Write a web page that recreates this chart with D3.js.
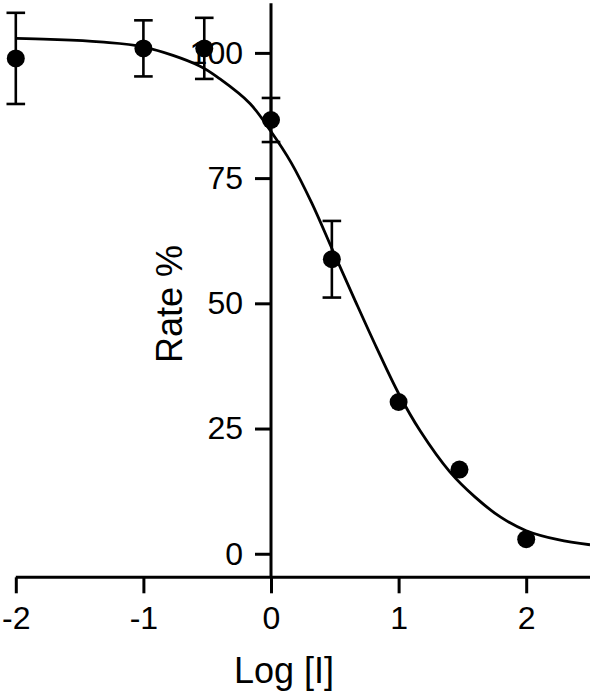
<!DOCTYPE html>
<html>
<head>
<meta charset="utf-8">
<script src="https://cdn.jsdelivr.net/npm/d3@7"></script>
<style>
  html, body { margin: 0; padding: 0; background: #fff; }
  svg { display: block; }
  text { font-family: "Liberation Sans", Arial, sans-serif; fill: #000; }
</style>
</head>
<body>
<svg id="chart" width="590" height="695"></svg>
<script>
// Measured data points (log concentration, rate %, error)
const logConc = [-2, -1, -0.523, 0, 0.477, 1, 1.477, 2];
const ratePct = [98.9, 100.9, 100.9, 86.6, 58.8, 30.3, 16.8, 2.9];
const rateErr = [9.1, 5.6, 6.1, 4.4, 7.65, 0, 0, 0];

// Fitted curve
const curveX = [-2.0, -1.73, -1.34, -1.0, -0.56, -0.4, -0.165, 0, 0.16, 0.32, 0.49, 0.66, 0.83, 1.0, 1.17, 1.40, 1.60, 1.80, 2.0, 2.25, 2.5];
const curveY = [102.9, 102.7, 102.2, 101.2, 97.4, 94.8, 89.9, 84.3, 78.0, 70.0, 60.2, 50.5, 41.0, 32.0, 24.5, 16.4, 11.3, 7.3, 4.6, 2.8, 1.8];

const xTicks = [-2, -1, 0, 1, 2];
const yTicks = [0, 25, 50, 75, 100];
const xTitle = "Log [I]";
const yTitle = "Rate %";

const svg = d3.select("#chart");
const x = d3.scaleLinear().domain([-2, 2.5]).range([15.8, 590]);
const y = d3.scaleLinear().domain([-4.7, 109.9]).range([577.3, 3.3]);

const SW = 3;

// X axis
const xAxis = d3.axisBottom(x).tickValues(xTicks).tickSize(16).tickPadding(13)
  .tickFormat(d => d3.format("d")(d).replace("\u2212", "-"));
const gx = svg.append("g").attr("transform", `translate(0,${y(-4.7)})`).call(xAxis);
gx.select(".domain").attr("d", `M${x(-2)},0H${x(2.5)}`).attr("stroke", "#000").attr("stroke-width", SW);
gx.selectAll(".tick line").attr("stroke", "#000").attr("stroke-width", SW);
gx.selectAll(".tick text").attr("font-size", 32).attr("font-family", "Liberation Sans, Arial, sans-serif").attr("fill", "#000");

// Y axis at x = 0
const yAxis = d3.axisLeft(y).tickValues(yTicks).tickSize(16).tickPadding(12).tickFormat(d3.format("d"));
const gy = svg.append("g").attr("transform", `translate(${x(0)},0)`).call(yAxis);
gy.select(".domain").attr("d", `M0,${y(109.9)}V${y(-4.7)}`).attr("stroke", "#000").attr("stroke-width", SW);
gy.selectAll(".tick line").attr("stroke", "#000").attr("stroke-width", SW);
gy.selectAll(".tick text").attr("font-size", 32).attr("font-family", "Liberation Sans, Arial, sans-serif").attr("fill", "#000");

// Fit curve
const curveData = curveX.map((cx, i) => [cx, curveY[i]]);
svg.append("path")
  .datum(curveData)
  .attr("fill", "none")
  .attr("stroke", "#000")
  .attr("stroke-width", 2.8)
  .attr("d", d3.line().x(d => x(d[0])).y(d => y(d[1])).curve(d3.curveCatmullRom.alpha(0.5)));

// Error bars
const pts = logConc.map((lx, i) => ({ lx, v: ratePct[i], e: rateErr[i] }));
const eb = svg.append("g").attr("stroke", "#000").attr("stroke-width", 2.6).attr("fill", "none");
pts.filter(d => d.e > 0).forEach(d => {
  const cx = x(d.lx), top = y(d.v + d.e), bot = y(d.v - d.e);
  eb.append("line").attr("x1", cx).attr("x2", cx).attr("y1", top).attr("y2", bot);
  eb.append("line").attr("x1", cx - 9.3).attr("x2", cx + 9.3).attr("y1", top).attr("y2", top);
  eb.append("line").attr("x1", cx - 9.3).attr("x2", cx + 9.3).attr("y1", bot).attr("y2", bot);
});

// Points
svg.append("g").selectAll("circle").data(pts).join("circle")
  .attr("cx", d => x(d.lx)).attr("cy", d => y(d.v)).attr("r", 9).attr("fill", "#000");

// Axis titles
svg.append("text").attr("x", 284).attr("y", 683).attr("text-anchor", "middle")
  .attr("font-size", 36).text(xTitle);
svg.append("text").attr("transform", "translate(182,304) rotate(-90)").attr("text-anchor", "middle")
  .attr("font-size", 36).text(yTitle);
</script>
</body>
</html>
